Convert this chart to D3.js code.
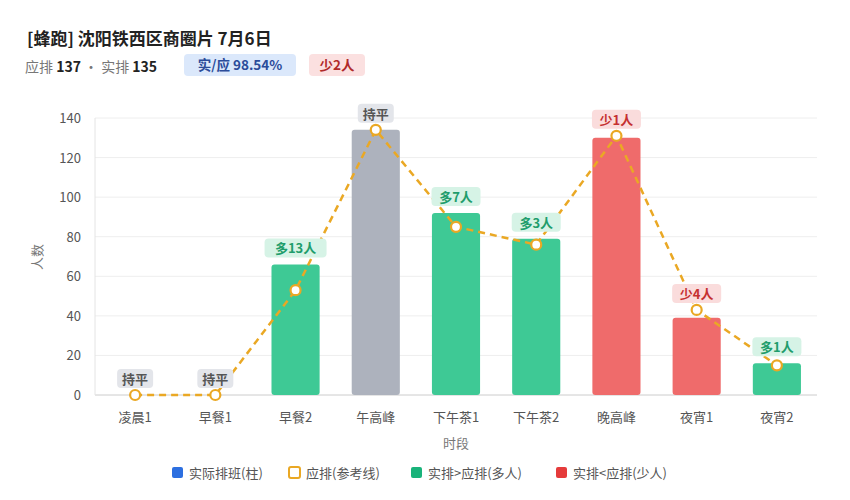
<!DOCTYPE html>
<html><head><meta charset="utf-8">
<script src="https://cdn.jsdelivr.net/npm/d3@7"></script>
<style>
body{margin:0;background:#fff;font-family:"Noto Sans CJK SC","Noto Sans",sans-serif;}
</style></head>
<body><svg id="c" width="850" height="500"></svg>
<script>
const categories = ["凌晨1","早餐1","早餐2","午高峰","下午茶1","下午茶2","晚高峰","夜宵1","夜宵2"]
const actual = [0,0,66,134,92,79,130,39,16]
const expected = [0,0,53,134,85,76,131,43,15]
const yTicks = [0,20,40,60,80,100,120,140]

const svg = d3.select("#c")
const m = {l:95, r:817, t:118, b:395}
const x = d3.scaleBand().domain(categories).range([m.l, m.r]).paddingInner(0.4).paddingOuter(0.2)
const y = d3.scaleLinear().domain([0,140]).range([m.b, m.t])

// header
svg.append("text").attr("x",27).attr("y",45).text("[蜂跑] 沈阳铁西区商圈片 7月6日")
  .attr("font-size",17).attr("font-weight","bold").attr("fill","#222")
let sub = svg.append("text").attr("x",25).attr("y",72).attr("font-size",14)
sub.append("tspan").text("应排 ").attr("fill","#777")
sub.append("tspan").text(" 137").attr("fill","#222").attr("font-weight","bold")
sub.append("tspan").text(" · 实排 ").attr("fill","#777")
sub.append("tspan").text(" 135").attr("fill","#222").attr("font-weight","bold")
svg.append("rect").attr("x",184).attr("y",54).attr("width",112).attr("height",22).attr("rx",4).attr("fill","#dbe8fb")
svg.append("text").attr("x",240).attr("y",70).attr("text-anchor","middle").text("实/应 98.54%")
  .attr("font-size",13.5).attr("font-weight","bold").attr("fill","#2b4c9a")
svg.append("rect").attr("x",309).attr("y",54).attr("width",56).attr("height",22).attr("rx",4).attr("fill","#fbe0e0")
svg.append("text").attr("x",337).attr("y",70).attr("text-anchor","middle").text("少2人")
  .attr("font-size",13.5).attr("font-weight","bold").attr("fill","#b02a2a")

// grid + axis
svg.append("g").selectAll("line").data(yTicks).enter().append("line")
  .attr("x1",m.l).attr("x2",m.r).attr("y1",d=>y(d)).attr("y2",d=>y(d))
  .attr("stroke",d=>d==0?"#ccc":"#eee")
svg.append("line").attr("x1",m.l).attr("x2",m.l).attr("y1",m.t).attr("y2",m.b).attr("stroke","#e4e4e4")
svg.append("g").selectAll("text").data(yTicks).enter().append("text")
  .attr("x",m.l-14).attr("y",d=>y(d)+5).attr("text-anchor","end").text(d=>d)
  .attr("font-size",13).attr("fill","#555")
svg.append("g").selectAll("text").data(categories).enter().append("text")
  .attr("x",d=>x(d)+x.bandwidth()/2).attr("y",422).attr("text-anchor","middle").text(d=>d)
  .attr("font-size",13).attr("fill","#555")
svg.append("text").attr("x",456).attr("y",448).attr("text-anchor","middle").text("时段").attr("font-size",13).attr("fill","#777")
svg.append("text").attr("transform","translate(42,257) rotate(-90)").attr("text-anchor","middle").text("人数").attr("font-size",13).attr("fill","#777")

const colorOf = i => actual[i]>expected[i] ? "#3ec995" : actual[i]<expected[i] ? "#ef6b6b" : "#adb2bd"
svg.append("g").selectAll("rect").data(actual).enter().append("rect")
  .attr("x",(d,i)=>x(categories[i])).attr("width",x.bandwidth())
  .attr("y",d=>y(d)).attr("height",d=>m.b-y(d)).attr("rx",3)
  .attr("fill",(d,i)=>colorOf(i))

const line = d3.line().x((d,i)=>x(categories[i])+x.bandwidth()/2).y(d=>y(d))
svg.append("path").datum(expected).attr("d",line).attr("fill","none")
  .attr("stroke","#eaa824").attr("stroke-width",2.5).attr("stroke-dasharray","7,5")
svg.append("g").selectAll("circle").data(expected).enter().append("circle")
  .attr("cx",(d,i)=>x(categories[i])+x.bandwidth()/2).attr("cy",d=>y(d)).attr("r",5)
  .attr("fill","#fff").attr("stroke","#eaa824").attr("stroke-width",2.2)

// labels
const lab = actual.map((a,i)=>{
  const d=a-expected[i]
  return {i, t: d==0?"持平":d>0?"多"+d+"人":"少"+(-d)+"人",
    bg: d==0?"#e3e5ea":d>0?"#d6f3e6":"#fadcdc", fg: d==0?"#555":d>0?"#1f9d6c":"#c53030",
    top: Math.max(a,expected[i])}
})
const lg = svg.append("g").selectAll("g").data(lab).enter().append("g")
  .attr("transform",d=>`translate(${x(categories[d.i])+x.bandwidth()/2},${y(d.top)-16})`)
lg.append("rect").attr("x",d=>-(d.t.length*6.5+5)).attr("y",-10).attr("width",d=>d.t.length*13+10).attr("height",19).attr("rx",4).attr("fill",d=>d.bg)
lg.append("text").attr("text-anchor","middle").attr("y",5).text(d=>d.t)
  .attr("font-size",13).attr("font-weight","bold").attr("fill",d=>d.fg)

// legend
const legend = [
  {t:"实际排班(柱)", c:"#2d6fe0", hollow:false},
  {t:"应排(参考线)", c:"#eaa824", hollow:true},
  {t:"实排>应排(多人)", c:"#19b37a", hollow:false},
  {t:"实排<应排(少人)", c:"#e53b3b", hollow:false}]
const lx = [172,289,411,556]
const lgd = svg.append("g").selectAll("g").data(legend).enter().append("g")
  .attr("transform",(d,i)=>`translate(${lx[i]},467)`)
lgd.append("rect").attr("x",0).attr("y",0).attr("width",11).attr("height",11).attr("rx",2)
  .attr("fill",d=>d.hollow?"#fff":d.c).attr("stroke",d=>d.c).attr("stroke-width",d=>d.hollow?2:0)
lgd.append("text").attr("x",17).attr("y",10.5).text(d=>d.t).attr("font-size",13).attr("fill","#555")
</script></body></html>
